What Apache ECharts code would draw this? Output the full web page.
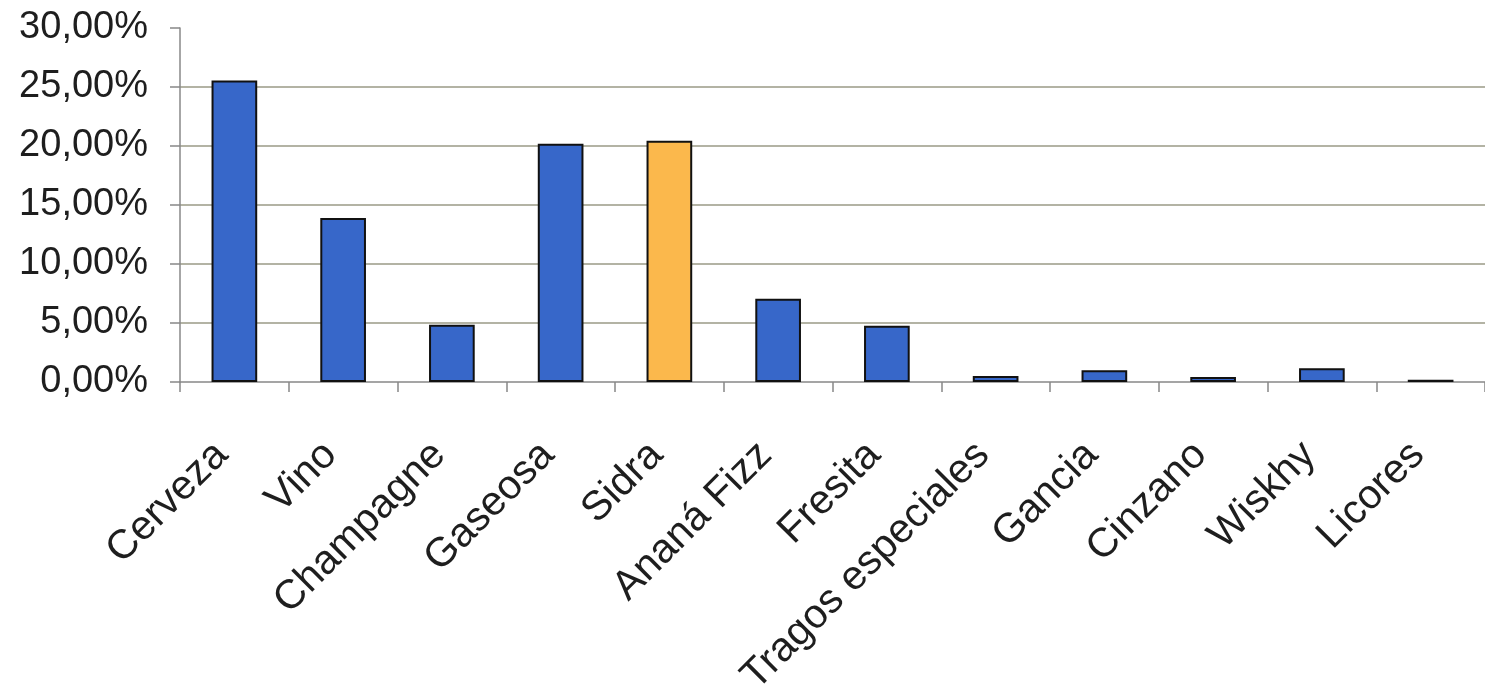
<!DOCTYPE html>
<html>
<head>
<meta charset="utf-8">
<title>Bebidas</title>
<script src="https://cdn.jsdelivr.net/npm/echarts@6/dist/echarts.min.js"></script>
<style>
  html, body { margin: 0; padding: 0; background: #ffffff; }
  #chart { width: 1485px; height: 693px; }
</style>
</head>
<body>
<div id="chart"></div>
<script>
// Drink categories and their share (%)
const categories = ['Cerveza', 'Vino', 'Champagne', 'Gaseosa', 'Sidra', 'Ananá Fizz',
  'Fresita', 'Tragos especiales', 'Gancia', 'Cinzano', 'Wiskhy', 'Licores'];
const shares = [25.55, 13.9, 4.85, 20.2, 20.45, 7.05, 4.77, 0.5, 1.0, 0.43, 1.17, 0.2];
const highlighted = 'Sidra';
const yTicks = { min: 0, max: 30, step: 5 };

const blue = '#3767c9';
const orange = '#fbb84c';

const chart = echarts.init(document.getElementById('chart'));
chart.setOption({
  backgroundColor: '#ffffff',
  animation: false,
  grid: {
    left: 180, right: 0, top: 28, bottom: 311,
    containLabel: false,
    outerBoundsMode: 'none'
  },
  xAxis: {
    type: 'category',
    data: categories,
    boundaryGap: true,
    axisLine: { show: true, lineStyle: { color: '#888888', width: 1.5 } },
    axisTick: { show: true, length: 10, lineStyle: { color: '#888888', width: 1.5 } },
    axisLabel: {
      interval: 0,
      rotate: 45,
      margin: 54,
      padding: [0, 18, 0, 0],
      fontFamily: 'Liberation Sans, Arial, sans-serif',
      fontSize: 41,
      color: '#1e1e1e'
    },
    splitLine: { show: false }
  },
  yAxis: {
    type: 'value',
    min: yTicks.min,
    max: yTicks.max,
    interval: yTicks.step,
    axisLine: { show: true, lineStyle: { color: '#888888', width: 1.5 } },
    axisTick: { show: true, length: 10, lineStyle: { color: '#888888', width: 1.5 } },
    axisLabel: {
      margin: 32,
      fontFamily: 'Liberation Sans, Arial, sans-serif',
      fontSize: 38,
      color: '#1e1e1e',
      formatter: v => v.toFixed(2).replace('.', ',') + '%'
    },
    splitLine: {
      show: true,
      showMinLine: false,
      showMaxLine: false,
      lineStyle: { color: '#9a9a86', width: 1.5 }
    }
  },
  series: [{
    type: 'bar',
    barWidth: '42%',
    data: shares.map((v, i) => ({
      value: v,
      itemStyle: { color: categories[i] === highlighted ? orange : blue }
    })),
    itemStyle: { borderColor: '#111111', borderWidth: 2 }
  }]
});
</script>
</body>
</html>
